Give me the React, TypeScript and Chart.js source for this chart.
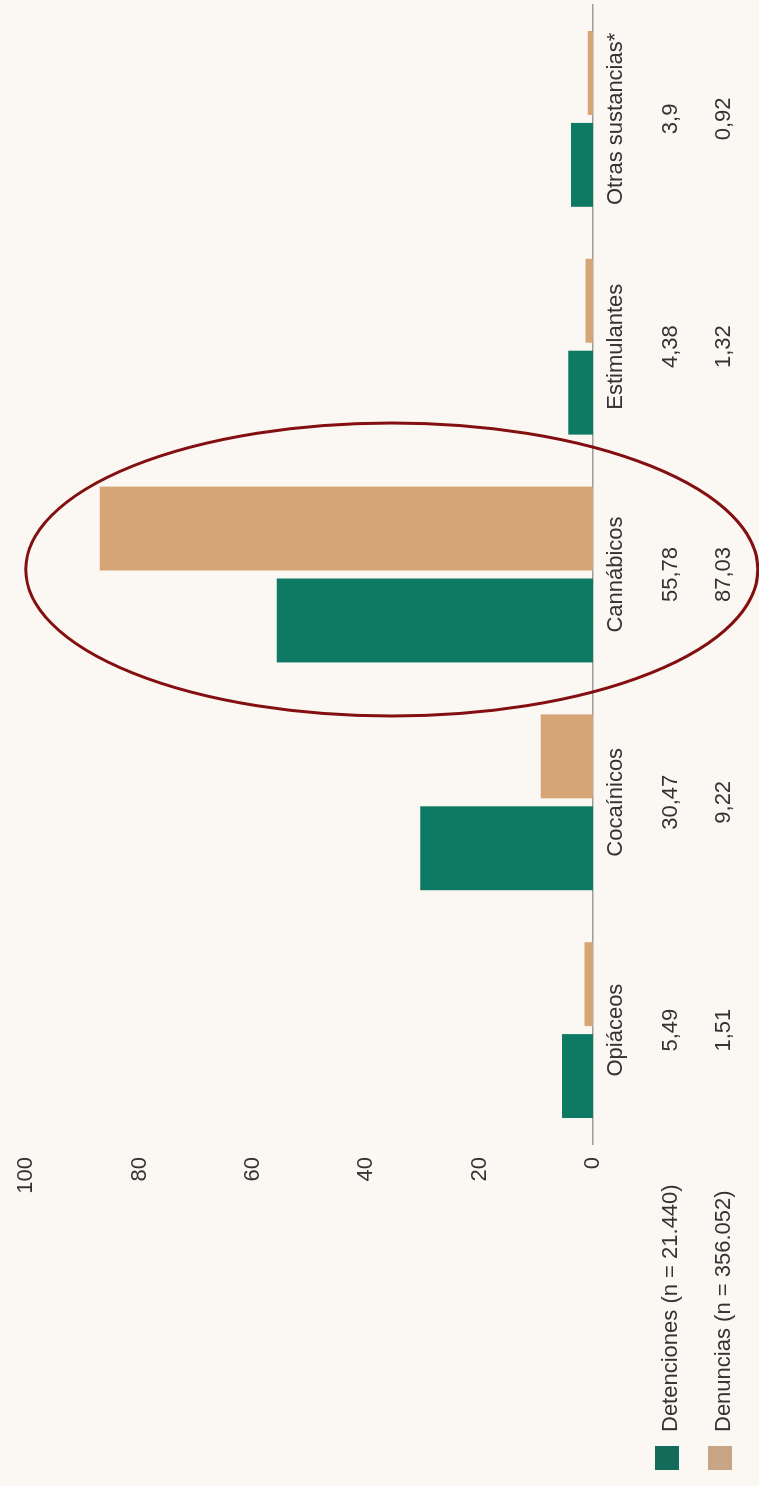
import { useEffect, useRef } from 'react';
import { Chart, registerables } from 'chart.js';

Chart.register(...registerables);

const categories = ['Opiáceos', 'Cocaínicos', 'Cannábicos', 'Estimulantes', 'Otras sustancias*'];
const detenciones = [5.49, 30.47, 55.78, 4.38, 3.9];
const denuncias = [1.51, 9.22, 87.03, 1.32, 0.92];
const seriesLabels = ['Detenciones (n = 21.440)', 'Denuncias (n = 356.052)'];
const highlightedCategory = 2;

const FONT = '"Liberation Sans", Arial, sans-serif';
const TEXT = '#333333';
const BG = '#fbf8f4';
const GREEN = '#0f7a64';
const TAN = '#d5a576';
const LEGEND_COLORS = ['#146b59', '#c9a586'];
const W = 1486;
const H = 759;

const fmt = (v: number) => v.toString().replace('.', ',');

const tablePlugin = {
  id: 'tableAndAnnotations',
  afterDraw(chart: any) {
    const ctx = chart.ctx as CanvasRenderingContext2D;
    const xs = chart.scales.x;
    const area = chart.chartArea;
    ctx.save();
    ctx.font = `22px ${FONT}`;
    ctx.textBaseline = 'middle';
    const rows = [detenciones, denuncias];
    rows.forEach((row, r) => {
      const y = area.bottom + 78 + r * 53;
      ctx.fillStyle = TEXT;
      ctx.textAlign = 'center';
      row.forEach((v, i) => ctx.fillText(fmt(v), xs.getPixelForValue(i), y));
      // legend entry
      ctx.fillStyle = LEGEND_COLORS[r];
      ctx.fillRect(16, y - 16, 24, 24);
      ctx.fillStyle = TEXT;
      ctx.textAlign = 'left';
      ctx.fillText(seriesLabels[r], 54, y);
    });
    // highlight ellipse
    const cx = xs.getPixelForValue(highlightedCategory) + 5;
    const cy = area.top + (area.bottom - area.top) * 0.645;
    ctx.beginPath();
    ctx.ellipse(cx, cy, 146.5, 366, 0, 0, Math.PI * 2);
    ctx.strokeStyle = '#840f10';
    ctx.lineWidth = 3;
    ctx.stroke();
    ctx.restore();
  },
};

export default function App() {
  const ref = useRef<HTMLCanvasElement>(null);
  useEffect(() => {
    document.body.style.margin = '0';
    document.body.style.background = BG;
    const chart = new Chart(ref.current!, {
      type: 'bar',
      data: {
        labels: categories,
        datasets: [
          { label: seriesLabels[0], data: detenciones, backgroundColor: GREEN, borderWidth: 0, categoryPercentage: 0.807, barPercentage: 0.913 },
          { label: seriesLabels[1], data: denuncias, backgroundColor: TAN, borderWidth: 0, categoryPercentage: 0.807, barPercentage: 0.913 },
        ],
      },
      options: {
        responsive: false,
        devicePixelRatio: 1,
        animation: false,
        layout: { padding: { top: 26, right: 5, left: 0, bottom: 0 } },
        plugins: { legend: { display: false }, tooltip: { enabled: false } },
        scales: {
          x: {
            grid: { display: false, drawTicks: false },
            border: { display: true, color: '#9c9c9c', width: 1.5 },
            ticks: { color: TEXT, font: { family: FONT, size: 22 }, padding: 10, maxRotation: 0, minRotation: 0, autoSkip: false },
            afterFit: (s: any) => { s.height = 166; },
          },
          y: {
            min: 0,
            max: 100,
            grid: { display: false, drawTicks: false },
            border: { display: false },
            ticks: { stepSize: 20, color: TEXT, font: { family: FONT, size: 22 }, padding: 13 },
            afterFit: (s: any) => { s.width = 342; },
          },
        },
      },
      plugins: [tablePlugin],
    });
    return () => chart.destroy();
  }, []);
  return (
    <div style={{ position: 'relative', width: 759, height: 1486, overflow: 'hidden', background: BG }}>
      <div style={{ position: 'absolute', left: 0, top: 0, width: W, height: H, transform: `translateY(${W}px) rotate(-90deg)`, transformOrigin: '0 0' }}>
        <canvas ref={ref} width={W} height={H} style={{ display: 'block', width: W, height: H }} />
      </div>
    </div>
  );
}
